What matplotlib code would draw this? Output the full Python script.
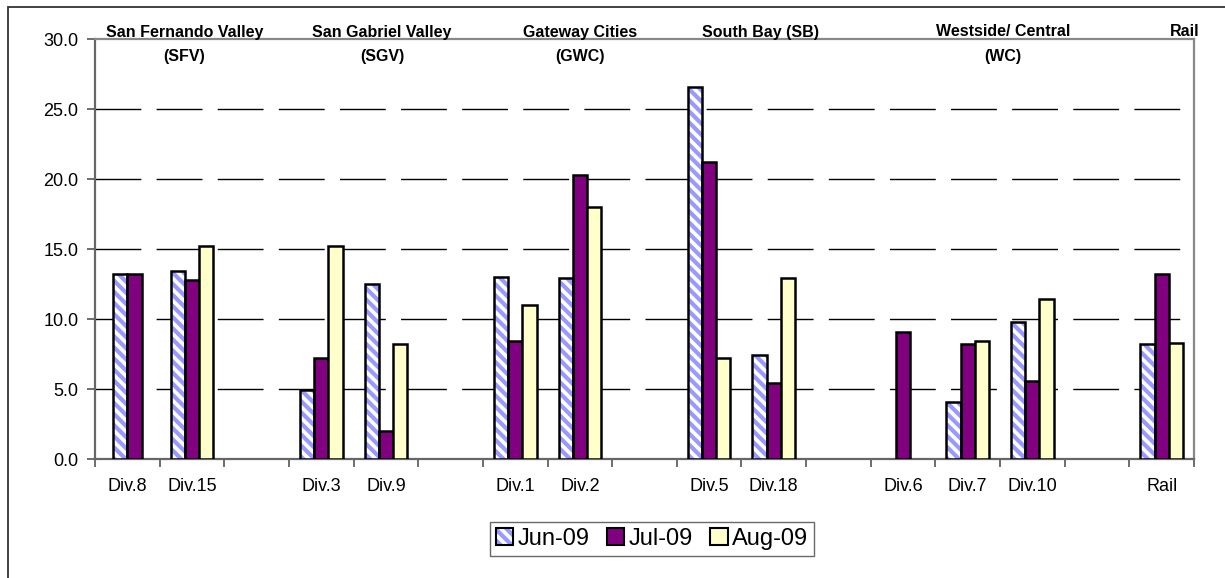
import numpy as np
import matplotlib
matplotlib.use("Agg")
import matplotlib.pyplot as plt
from matplotlib.patches import Patch, Rectangle

plt.rcParams['font.family'] = ['Liberation Sans', 'DejaVu Sans']
plt.rcParams['hatch.linewidth'] = 3.0

# Division slots (empty strings are spacer slots between regions)
categories = ['Div.8', 'Div.15', '', 'Div.3', 'Div.9', '', 'Div.1', 'Div.2', '',
              'Div.5', 'Div.18', '', 'Div.6', 'Div.7', 'Div.10', '', 'Rail']
nan = np.nan
jun_09 = [13.2, 13.4, nan, 4.9, 12.5, nan, 13.0, 12.9, nan,
          26.6, 7.4, nan, nan, 4.1, 9.8, nan, 8.2]
jul_09 = [13.2, 12.8, nan, 7.2, 2.0, nan, 8.4, 20.3, nan,
          21.2, 5.4, nan, 9.1, 8.2, 5.6, nan, 13.2]
aug_09 = [nan, 15.2, nan, 15.2, 8.2, nan, 11.0, 18.0, nan,
          7.2, 12.9, nan, nan, 8.4, 11.4, nan, 8.3]
series_labels = ['Jun-09', 'Jul-09', 'Aug-09']

regions = ['San Fernando Valley\n(SFV)', 'San Gabriel Valley\n(SGV)',
           'Gateway Cities\n(GWC)', 'South Bay (SB)', 'Westside/ Central\n(WC)', 'Rail']
region_x = [0.88, 3.94, 7.0, 9.8, 13.55, 16.35]

y_ticks = [0, 5, 10, 15, 20, 25, 30]

W, H = 1225, 578
fig = plt.figure(figsize=(W / 100, H / 100), dpi=100)
fig.patch.set_facecolor('white')

# outer chart frame (left and top edges visible)
fig.patches.append(Rectangle((8 / W, -0.1), 1.2, (H - 7) / H + 0.1,
                             transform=fig.transFigure, fill=False,
                             edgecolor='#333333', linewidth=1.3))

ax = fig.add_axes([95 / W, (H - 459) / H, 1099 / W, 420 / H])
x = np.arange(len(categories))
bw = 0.22

jun = np.array(jun_09)
jul = np.array(jul_09)
aug = np.array(aug_09)

# each group of bars is centred on its slot
for i in range(len(categories)):
    present = [(k, s[i]) for k, s in enumerate((jun, jul, aug)) if not np.isnan(s[i])]
    n = len(present)
    for j, (k, v) in enumerate(present):
        xc = x[i] + (j - (n - 1) / 2) * bw
        if k == 0:
            ax.bar(xc, v, bw, color='white', edgecolor='#9999FF', hatch='\\\\\\',
                   linewidth=0, zorder=3)
            ax.bar(xc, v, bw, fill=False, edgecolor='black', linewidth=1.8, zorder=4)
        elif k == 1:
            ax.bar(xc, v, bw, color='#800080', edgecolor='black', linewidth=1.8, zorder=3)
        else:
            ax.bar(xc, v, bw, color='#FFFFCC', edgecolor='black', linewidth=1.8, zorder=3)

ax.set_xlim(-0.5, len(categories) - 0.5)
ax.set_ylim(0, 30)

# dashed grid lines
for yv in y_ticks[1:-1]:
    ax.axhline(yv, color='black', linewidth=1.0, linestyle=(0, (33, 11)), zorder=1)

ax.set_yticks(y_ticks)
ax.set_yticklabels([f'{v:.1f}' for v in y_ticks], fontsize=13)
ax.set_xticks(x)
ax.set_xticklabels(categories, fontsize=13)
ax.set_xticks(np.arange(len(categories) + 1) - 0.5, minor=True)
ax.tick_params(axis='x', which='major', length=0, pad=14)
ax.tick_params(axis='x', which='minor', length=6, width=1.2, color='#555555', direction='out')
ax.tick_params(axis='y', length=6, width=1.2, color='#555555', direction='out', pad=6)

for side in ['left', 'bottom']:
    ax.spines[side].set_color('#666666')
    ax.spines[side].set_linewidth(1.6)
for side in ['top', 'right']:
    ax.spines[side].set_color('#888888')
    ax.spines[side].set_linewidth(1.6)

# region headings
for name, rx in zip(regions, region_x):
    lines = name.split('\n')
    ax.text(rx, 30.5, lines[0], ha='center', va='center', fontsize=11.5,
            fontweight='bold', zorder=5)
    if len(lines) > 1:
        ax.text(rx, 28.75, lines[1], ha='center', va='center', fontsize=11.5,
                fontweight='bold', zorder=5)

# legend
h_jun = (Patch(facecolor='white', edgecolor='#9999FF', hatch='\\\\\\', linewidth=0),
         Patch(fill=False, edgecolor='black', linewidth=1.5))
h_jul = Patch(facecolor='#800080', edgecolor='black', linewidth=1.5)
h_aug = Patch(facecolor='#FFFFCC', edgecolor='black', linewidth=1.5)
leg = fig.legend([h_jun, h_jul, h_aug], series_labels, loc='center',
                 bbox_to_anchor=(652 / W, 1 - 539 / H), ncol=3, fontsize=17,
                 frameon=True, fancybox=False, edgecolor='#444444',
                 handlelength=0.75, handleheight=0.75, handletextpad=0.2,
                 columnspacing=0.7, borderpad=0.25, borderaxespad=0)
leg.get_frame().set_linewidth(1.0)

fig.savefig('out.png', dpi=100, facecolor='white')
